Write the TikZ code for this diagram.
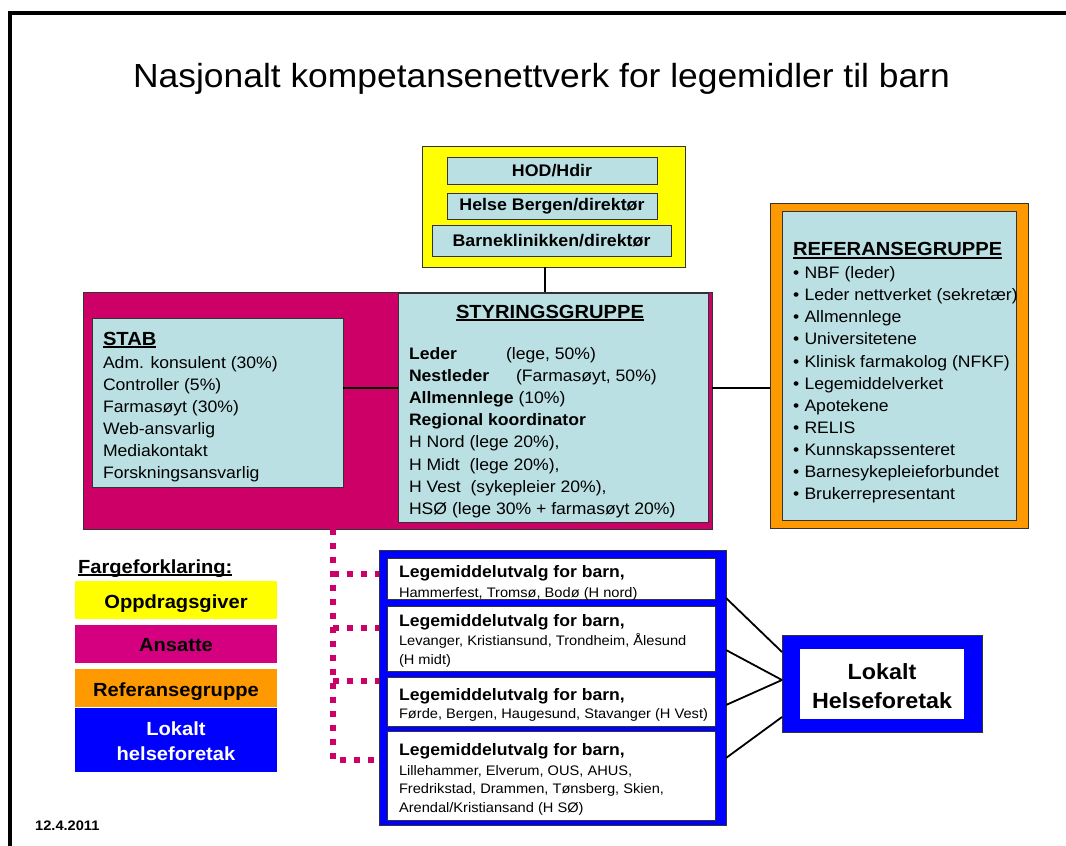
\documentclass[tikz,border=0pt]{standalone}
\usepackage{fontspec}
\setmainfont{Liberation Sans}[FakeStretch=1.06]
\definecolor{lb}{HTML}{BBE0E3}
\definecolor{mag}{HTML}{CC0066}
\definecolor{lmag}{HTML}{D4007F}
\definecolor{org}{HTML}{FF9900}
\definecolor{blu}{HTML}{0000FF}
\definecolor{yel}{HTML}{FFFF00}
\definecolor{edge}{HTML}{333333}
\newcommand\fs[2]{\fontsize{#1}{#2}\selectfont}
\newsavebox\ulbx
\newcommand\myul[1]{\sbox\ulbx{#1}\rlap{\rule[-3pt]{\wd\ulbx}{1.6pt}}\usebox\ulbx}
\newcommand\bx[7]{\node[#6, anchor=north west, minimum width=#4-#2, minimum height=#5-#3, inner sep=0pt, outer sep=0pt] (#1) at (#2,#3) {#7};}
\tikzset{
 frame/.style={draw=edge, line width=0.8pt},
 tx/.style={anchor=base west, inner sep=0pt, outer sep=0pt, font=\fs{16.6}{20}},
 txb/.style={anchor=base west, inner sep=0pt, outer sep=0pt, font=\fs{16.6}{20}\bfseries},
 hd/.style={anchor=base west, inner sep=0pt, outer sep=0pt, font=\fs{19}{22}\bfseries},
 sm/.style={anchor=base west, inner sep=0pt, outer sep=0pt, font=\fs{13.8}{17}},
 lg/.style={anchor=base, inner sep=0pt, outer sep=0pt, font=\fs{19}{22}\bfseries},
 link/.style={draw=black, line width=1.8pt},
 dots/.style={draw=mag, line width=6pt, dash pattern=on 6pt off 8pt},
}
\begin{document}
\begin{tikzpicture}[x=1pt,y=-1pt]
\useasboundingbox (0,0) rectangle (1066,846);
\fill[white] (0,0) rectangle (1066,846);
\draw[line width=4.5pt] (10,846) -- (10,13) -- (1066,13);

\node[anchor=base, inner sep=0pt, font=\fs{33.4}{40}] (title) at (541.5,87) {Nasjonalt kompetansenettverk for legemidler til barn};

% top yellow group
\bx{yel}{422}{146}{685}{267}{frame, fill=yel}{}
\bx{hod}{447}{157}{657}{184}{frame, fill=lb, font=\fs{16.8}{20}\bfseries}{HOD/Hdir}
\bx{hb}{447}{193}{657}{219}{frame, fill=lb, font=\fs{16.8}{20}\bfseries}{Helse Bergen/direktør}
\bx{bk}{432}{225}{671}{256}{frame, fill=lb, font=\fs{16.8}{20}\bfseries}{Barneklinikken/direktør}

% magenta group
\bx{mag}{83}{292}{712}{529}{frame, fill=mag}{}
\bx{stab}{92}{318}{343}{487}{frame, fill=lb}{}
\bx{styr}{398}{293}{708}{522}{frame, fill=lb}{}

% orange group
\bx{ref}{770}{203}{1028}{528}{frame, fill=org}{}
\bx{refin}{782}{211}{1016}{520}{frame, fill=lb}{}

% connectors top
\coordinate (ly) at (0,388);
\coordinate (vx) at (545,0);
\draw[link, line width=1.5pt] (yel.south -| vx) -- (mag.north -| vx);
\draw[link, line width=1.5pt] (stab.east |- ly) -- (styr.west |- ly);
\draw[link, line width=1.5pt] (mag.east |- ly) -- (ref.west |- ly);

% STAB text
\node[hd] (stabh) at (103,345) {\myul{STAB}};
\node[tx] (s1) at (103,368) {Adm. konsulent (30\%)};
\node[tx] (s2) at (103,390) {Controller (5\%)};
\node[tx] (s3) at (103,412) {Farmasøyt (30\%)};
\node[tx] (s4) at (103,434) {Web-ansvarlig};
\node[tx] (s5) at (103,456) {Mediakontakt};
\node[tx] (s6) at (103,478) {Forskningsansvarlig};

% STYRINGSGRUPPE text
\node[hd, anchor=base] (styrh) at (550,318) {\myul{STYRINGSGRUPPE}};
\node[txb] (g1) at (409,359.5) {Leder};
\node[tx] (g1b) at (506,359.5) {(lege, 50\%)};
\node[txb] (g2) at (409,381.6) {Nestleder};
\node[tx] (g2b) at (516,381.6) {(Farmasøyt, 50\%)};
\node[tx] (g3) at (409,403.7) {\textbf{Allmennlege} (10\%)};
\node[txb] (g4) at (409,425.8) {Regional koordinator};
\node[tx] (g5) at (409,447.9) {H Nord (lege 20\%),};
\node[tx] (g6) at (409,470) {H Midt\ \ (lege 20\%),};
\node[tx] (g7) at (409,492.1) {H Vest\ \ (sykepleier 20\%),};
\node[tx] (g8) at (409,514.2) {HSØ (lege 30\% + farmasøyt 20\%)};

% REFERANSEGRUPPE text
\node[hd] (refh) at (793,255.5) {\myul{REFERANSEGRUPPE}};
\foreach \t [count=\i from 0] in {NBF (leder), Leder nettverket (sekretær), Allmennlege, Universitetene, Klinisk farmakolog (NFKF), Legemiddelverket, Apotekene, RELIS, Kunnskapssenteret, Barnesykepleieforbundet, Brukerrepresentant}{
  \node[tx] (rb\i) at (793,278.6+22.1*\i) {•};
  \node[tx] (r\i) at (804.5,278.6+22.1*\i) {\t};
}

% legend
\node[hd] (legh) at (78,573) {\myul{Fargeforklaring:}};
\bx{l1}{75}{581}{277}{619}{fill=yel}{}
\bx{l2}{75}{625}{277}{663}{fill=lmag}{}
\bx{l3}{75}{669}{277}{707}{fill=org}{}
\bx{l4}{75}{708}{277}{772}{fill=blu}{}
\node[lg] (l1t) at (176,608) {Oppdragsgiver};
\node[lg] (l2t) at (176,651.5) {Ansatte};
\node[lg] (l3t) at (176,696) {Referansegruppe};
\node[lg, text=white] (l4t) at (176,735) {Lokalt};
\node[lg, text=white] (l4u) at (176,760.5) {helseforetak};

% blue group
\bx{blue}{379}{550}{726}{825}{frame, fill=blu}{}
\bx{b1}{387}{558}{715}{599}{frame, fill=white}{}
\bx{b2}{387}{606}{715}{671}{frame, fill=white}{}
\bx{b3}{387}{677}{715}{726}{frame, fill=white}{}
\bx{b4}{387}{731}{715}{820}{frame, fill=white}{}
\node[txb] (b1a) at (399,577) {Legemiddelutvalg for barn,};
\node[sm] (b1b) at (399,597) {Hammerfest, Tromsø, Bodø (H nord)};
\node[txb] (b2a) at (399,626) {Legemiddelutvalg for barn,};
\node[sm] (b2b) at (399,645) {Levanger, Kristiansund, Trondheim, Ålesund};
\node[sm] (b2c) at (399,664.5) {(H midt)};
\node[txb] (b3a) at (399,700) {Legemiddelutvalg for barn,};
\node[sm] (b3b) at (399,718.5) {Førde, Bergen, Haugesund, Stavanger (H Vest)};
\node[txb] (b4a) at (399,755.5) {Legemiddelutvalg for barn,};
\node[sm] (b4b) at (399,775) {Lillehammer, Elverum, OUS, AHUS,};
\node[sm] (b4c) at (399,793.5) {Fredrikstad, Drammen, Tønsberg, Skien,};
\node[sm] (b4d) at (399,812) {Arendal/Kristiansand (H SØ)};

% Lokalt Helseforetak
\bx{lok}{782}{635}{982}{732}{frame, fill=blu}{}
\bx{lokin}{800}{649}{964}{719}{fill=white}{}
\node[anchor=base, inner sep=0pt, font=\fs{22}{26}\bfseries] (lokt) at (882,679) {Lokalt};
\node[anchor=base, inner sep=0pt, font=\fs{22}{26}\bfseries] (loku) at (882,708) {Helseforetak};

% dotted connectors
\coordinate (dx) at (333,0);
\coordinate (p1) at (0,574);
\coordinate (p2) at (0,628);
\coordinate (p3) at (0,681);
\coordinate (p4) at (0,760);
\draw[dots] (mag.south -| dx) -- (dx |- p4) -- (blue.west |- p4);
\draw[dots] (dx |- p1) -- (blue.west |- p1);
\draw[dots] (dx |- p2) -- (blue.west |- p2);
\draw[dots] (dx |- p3) -- (blue.west |- p3);

% blue to Lokalt
\coordinate (q1) at (0,598);
\coordinate (q2) at (0,650);
\coordinate (q3) at (0,705);
\coordinate (q4) at (0,758);
\coordinate (e1) at (0,652);
\coordinate (e2) at (0,680);
\coordinate (e3) at (0,717);
\draw[link] (blue.east |- q1) -- (lok.west |- e1);
\draw[link] (blue.east |- q2) -- (lok.west |- e2);
\draw[link] (blue.east |- q3) -- (lok.west |- e2);
\draw[link] (blue.east |- q4) -- (lok.west |- e3);

\node[anchor=base west, inner sep=0pt, font=\fs{13.8}{16}\bfseries] (date) at (35,830) {12.4.2011};
\end{tikzpicture}
\end{document}
